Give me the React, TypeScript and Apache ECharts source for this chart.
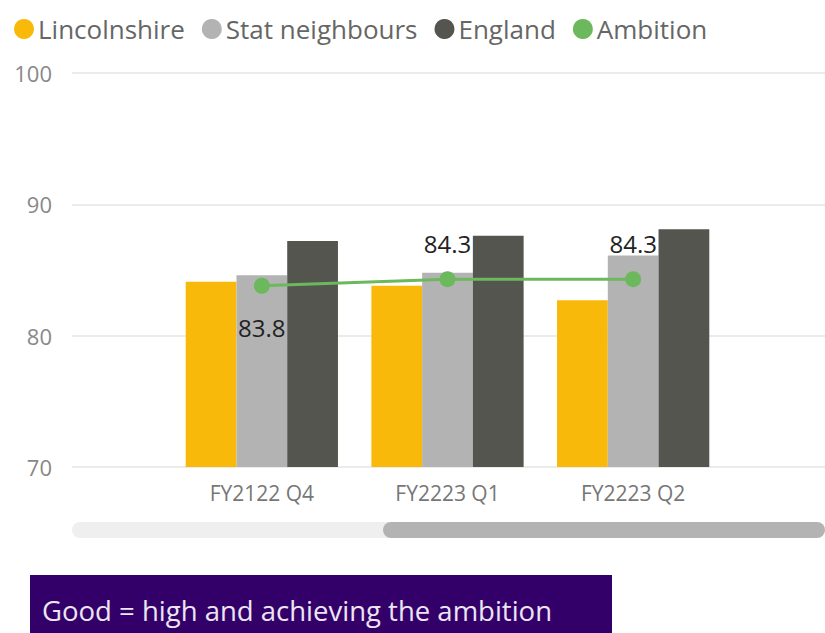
import React, { useEffect, useRef } from "react";
import * as echarts from "echarts";

const categories = ["FY2122 Q4", "FY2223 Q1", "FY2223 Q2"];
const lincolnshire = [84.1, 83.8, 82.7];
const statNeighbours = [84.6, 84.8, 86.1];
const england = [87.2, 87.6, 88.1];
const ambition = [83.8, 84.3, 84.3];
const yTicks = { min: 70, max: 100, interval: 10 };

const FONT = "'Open Sans', 'Noto Sans', sans-serif";

export default function App() {
  const ref = useRef<HTMLDivElement>(null);
  useEffect(() => {
    document.body.style.margin = "0";
    if (!ref.current) return;
    const chart = echarts.init(ref.current, undefined, { renderer: "svg" });
    const gridTop = 73;
    const gridBottom = 166;
    chart.setOption({
      animation: false,
      textStyle: { fontFamily: FONT },
      legend: {
        left: 9,
        top: 11,
        icon: "circle",
        itemWidth: 20,
        itemHeight: 20,
        itemGap: 17,
        textStyle: { fontSize: 26, color: "#666", fontFamily: FONT, padding: [0, 0, 0, -1] },
        data: ["Lincolnshire", "Stat neighbours", "England", "Ambition"],
      },
      grid: [
        { left: 72, right: 0, top: gridTop, bottom: gridBottom },
        { left: 169, right: 99, top: gridTop, bottom: gridBottom },
      ],
      xAxis: [
        { type: "value", gridIndex: 0, show: false, min: 0, max: 1 },
        {
          type: "category",
          gridIndex: 1,
          data: categories,
          axisLine: { show: false },
          axisTick: { show: false },
          axisLabel: { color: "#777", fontSize: 21, margin: 15, fontFamily: FONT },
        },
      ],
      yAxis: [
        {
          type: "value",
          gridIndex: 0,
          min: yTicks.min,
          max: yTicks.max,
          interval: yTicks.interval,
          axisLine: { show: false },
          axisTick: { show: false },
          axisLabel: { color: "#888", fontSize: 22, margin: 20, fontFamily: FONT },
          splitLine: { lineStyle: { color: "#EBEBEB", width: 2 } },
        },
        {
          type: "value",
          gridIndex: 1,
          min: yTicks.min,
          max: yTicks.max,
          interval: yTicks.interval,
          show: false,
          splitLine: { show: false },
        },
      ],
      series: [
        {
          name: "Lincolnshire",
          type: "bar",
          xAxisIndex: 1,
          yAxisIndex: 1,
          data: lincolnshire,
          itemStyle: { color: "#F9B90B" },
          barGap: "0%",
          barCategoryGap: "18%",
        },
        {
          name: "Stat neighbours",
          type: "bar",
          xAxisIndex: 1,
          yAxisIndex: 1,
          data: statNeighbours,
          itemStyle: { color: "#B3B3B3" },
          barGap: "0%",
          barCategoryGap: "18%",
        },
        {
          name: "England",
          type: "bar",
          xAxisIndex: 1,
          yAxisIndex: 1,
          data: england,
          itemStyle: { color: "#555550" },
          barGap: "0%",
          barCategoryGap: "18%",
        },
        {
          name: "Ambition",
          type: "line",
          xAxisIndex: 1,
          yAxisIndex: 1,
          data: ambition.map((v, i) => ({
            value: v,
            label:
              i === 0
                ? { position: "bottom", distance: 22 }
                : { position: "top", distance: 16 },
          })),
          symbol: "circle",
          symbolSize: 16,
          lineStyle: { color: "#6CB85C", width: 3 },
          itemStyle: { color: "#6CB85C" },
          label: {
            show: true,
            color: "#222",
            fontSize: 24,
            fontFamily: FONT,
            formatter: (p: any) => Number(p.value).toFixed(1),
          },
          z: 5,
        },
      ],
      graphic: [
        {
          type: "rect",
          shape: { x: 72, y: 522, width: 753, height: 16, r: 8 },
          style: { fill: "#EFEFEF" },
        },
        {
          type: "rect",
          shape: { x: 383, y: 522, width: 442, height: 16, r: 8 },
          style: { fill: "#B3B3B3" },
        },
        {
          type: "rect",
          shape: { x: 30, y: 575, width: 582, height: 70 },
          style: { fill: "#33006A" },
        },
        {
          type: "text",
          x: 42,
          y: 610,
          style: {
            text: "Good = high and achieving the ambition",
            fill: "#ECE6F2",
            fontSize: 27.5,
            fontFamily: FONT,
            verticalAlign: "middle",
          },
        },
      ],
    });
    return () => chart.dispose();
  }, []);
  return <div ref={ref} style={{ width: 825, height: 633 }} />;
}
